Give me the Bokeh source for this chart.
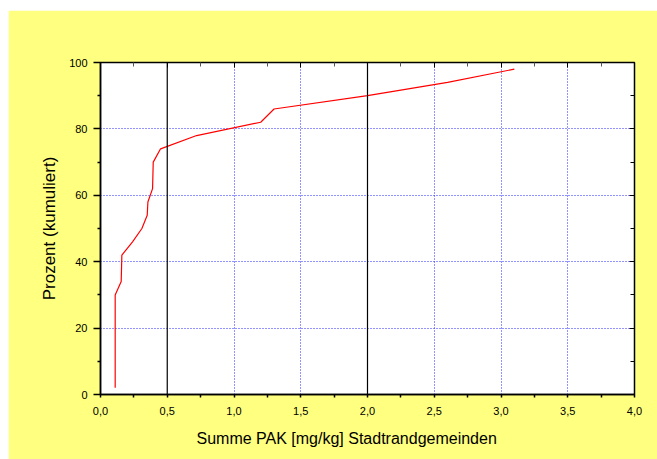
from bokeh.plotting import figure
from bokeh.models import (FixedTicker, LinearAxis, Span, CustomJSTickFormatter,
                          Range1d, Spacer, Title)
from bokeh.layouts import column, row
from bokeh.embed import file_html
from bokeh.resources import INLINE

# Cumulative distribution of PAK sums in the suburban municipalities
pak_mg_kg = [0.11, 0.11, 0.155, 0.16, 0.24, 0.31, 0.35, 0.355, 0.39, 0.395,
             0.45, 0.72, 1.20, 1.30, 2.00, 2.60, 3.10]
percent_cum = [2, 30, 34, 42, 46, 50, 54, 58, 62, 70,
               74, 78, 82, 86, 90, 94, 98]

x_ticks = [0.0, 0.5, 1.0, 1.5, 2.0, 2.5, 3.0, 3.5, 4.0]
x_minor = [0.25, 0.75, 1.25, 1.75, 2.25, 2.75, 3.25, 3.75]
y_ticks = [0, 20, 40, 60, 80, 100]
y_minor = [10, 30, 50, 70, 90]
x_grid = [1.0, 1.5, 2.5, 3.0, 3.5]
y_grid = [20, 40, 60, 80]
thresholds = [0.5, 2.0]
x_title = "Summe PAK [mg/kg] Stadtrandgemeinden"
y_title = "Prozent (kumuliert)"

YELLOW = "#FFFF80"
FONT = "Liberation Sans"

p = figure(width=649, height=449, output_backend="svg", toolbar_location=None,
           x_range=Range1d(0, 4), y_range=Range1d(0, 100),
           y_axis_label=y_title,
           min_border_left=92, min_border_top=52,
           min_border_right=23, min_border_bottom=65)
p.border_fill_color = YELLOW
p.background_fill_color = "white"
p.outline_line_color = "black"
p.outline_line_width = 1.5

fmt = CustomJSTickFormatter(code="return tick.toFixed(1).replace('.', ',');")
blank = CustomJSTickFormatter(code="return '';")

xa = p.xaxis[0]
xa.ticker = FixedTicker(ticks=x_ticks, minor_ticks=x_minor)
xa.formatter = fmt
ya = p.yaxis[0]
ya.ticker = FixedTicker(ticks=y_ticks, minor_ticks=y_minor)

for ax in (xa, ya):
    ax.axis_line_color = "black"
    ax.axis_line_width = 1.5
    ax.major_tick_line_color = "black"
    ax.minor_tick_line_color = "black"
    ax.major_tick_line_width = 1.5
    ax.minor_tick_line_width = 1.5
    ax.major_tick_in = 0
    ax.minor_tick_in = 0
    ax.major_label_text_font = FONT
    ax.major_label_text_font_size = "11px"
    ax.major_label_text_color = "black"
    ax.axis_label_text_font = FONT
    ax.axis_label_text_font_style = "normal"
    ax.axis_label_text_color = "black"

xa.major_tick_out = 3
xa.minor_tick_out = 3
xa.major_label_standoff = 9

ya.major_tick_out = 7
ya.minor_tick_out = 3
ya.major_label_standoff = 6
ya.axis_label_text_font_size = "17px"
ya.axis_label_standoff = 7

# x-axis caption, set slightly left of the frame centre
p.add_layout(Title(text=x_title, align="left", offset=96, standoff=21,
                   text_font=FONT, text_font_size="16px",
                   text_font_style="normal", text_color="black"), "below")

# mirrored axes on top and right with inward ticks only
top = LinearAxis(ticker=FixedTicker(ticks=x_ticks, minor_ticks=x_minor),
                 formatter=blank, major_label_text_color=None,
                 axis_line_color=None,
                 major_tick_in=5, major_tick_out=0, minor_tick_in=4, minor_tick_out=0,
                 major_tick_line_color="black", minor_tick_line_color="#555555")
right = LinearAxis(ticker=FixedTicker(ticks=y_ticks, minor_ticks=y_minor),
                   formatter=blank, major_label_text_color=None,
                   axis_line_color=None,
                   major_tick_in=5, major_tick_out=0, minor_tick_in=4, minor_tick_out=0,
                   major_tick_line_color="black", minor_tick_line_color="black")
p.add_layout(top, "above")
p.add_layout(right, "right")

p.xgrid[0].ticker = FixedTicker(ticks=x_grid)
p.ygrid[0].ticker = FixedTicker(ticks=y_grid)
for g in (p.xgrid[0], p.ygrid[0]):
    g.grid_line_color = "#2828FF"
    g.grid_line_dash = "1 2"
    g.grid_line_width = 1

for t in thresholds:
    p.add_layout(Span(location=t, dimension="height", line_color="black",
                      line_width=1.2))

p.line(pak_mg_kg, percent_cum, line_color="#FF0000", line_width=1.2)

page = column(Spacer(height=10), row(Spacer(width=8), p))
open("out.html", "w").write(file_html(page, INLINE))
